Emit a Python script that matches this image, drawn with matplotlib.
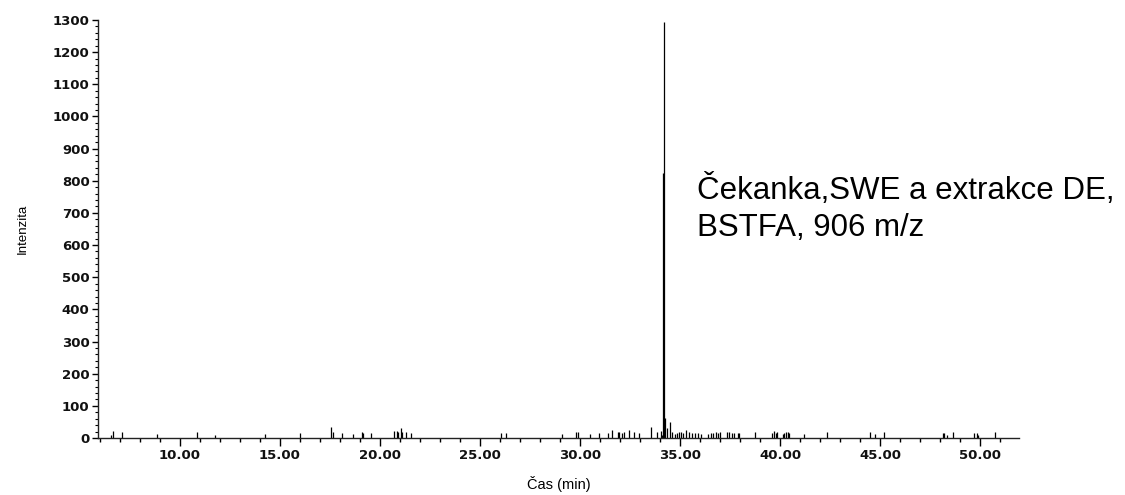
import matplotlib
matplotlib.use('Agg')
import matplotlib.pyplot as plt
from matplotlib.ticker import MultipleLocator, FormatStrFormatter

# retention times (min) and intensities of the visible peaks
times = [
    6.55, 6.63, 7.10, 8.85, 10.85, 11.75, 14.25, 16.00,
    17.53, 17.63, 18.10, 18.67, 19.08, 19.17, 19.55,
    20.72, 20.83, 20.90, 21.03, 21.10, 21.30, 21.55,
    26.03, 26.30, 29.08, 29.78, 29.88, 30.50, 30.95,
    31.42, 31.60, 31.88, 31.97, 32.08, 32.20, 32.45, 32.70, 32.97,
    33.55, 33.83, 34.05, 34.12,
    34.17, 34.20,
    34.25, 34.33, 34.50, 34.58, 34.75, 34.87, 34.97, 35.07, 35.17,
    35.30, 35.47, 35.62, 35.75, 35.88, 36.05, 36.42, 36.53, 36.67,
    36.78, 36.92, 37.00, 37.35, 37.45, 37.62, 37.72, 37.88, 37.97,
    38.75, 39.62, 39.70, 39.78, 39.85, 40.15, 40.22, 40.30, 40.38,
    40.45, 41.22, 42.35, 44.50, 44.75, 45.20,
    48.13, 48.22, 48.33, 48.63, 49.72, 49.83, 49.90, 50.75,
]
intensity = [
    8, 22, 18, 12, 18, 9, 13, 16,
    34, 18, 16, 13, 19, 16, 16,
    22, 22, 18, 30, 18, 18, 16,
    16, 16, 13, 19, 20, 13, 16,
    16, 24, 19, 19, 16, 20, 25, 19, 16,
    33, 19, 23, 10,
    825, 1295,
    62, 31, 50, 19, 13, 16, 20, 20, 16,
    24, 20, 16, 16, 16, 12, 13, 16, 16,
    20, 16, 18, 20, 18, 16, 16, 16, 16,
    18, 16, 22, 16, 18, 13, 16, 20, 20,
    16, 13, 20, 19, 13, 18,
    16, 16, 9, 19, 16, 16, 9, 19,
]

x_major = [10, 15, 20, 25, 30, 35, 40, 45, 50]
y_major = list(range(0, 1301, 100))

fig = plt.figure(figsize=(11.25, 4.95), dpi=100)
ax = fig.add_axes([0.0871, 0.1152, 0.8187, 0.8444])

ax.vlines(times, 0, intensity, colors='black', linewidth=0.9)

ax.set_xlim(5.9, 51.95)
ax.set_ylim(0, 1300)
ax.set_xticks(x_major)
ax.set_yticks(y_major)
ax.xaxis.set_major_formatter(FormatStrFormatter('%.2f'))
ax.xaxis.set_minor_locator(MultipleLocator(1))
ax.yaxis.set_minor_locator(MultipleLocator(20))

for side in ['top', 'right']:
    ax.spines[side].set_visible(False)
for side in ['left', 'bottom']:
    ax.spines[side].set_color('#222222')
    ax.spines[side].set_linewidth(1.0)

ax.tick_params(axis='x', which='major', length=6, width=1, direction='out', pad=2)
ax.tick_params(axis='x', which='minor', length=3, width=1, direction='out')
ax.tick_params(axis='y', which='major', length=4, width=1, direction='out', pad=2)
ax.tick_params(axis='y', which='minor', length=2, width=0.8, direction='out')
for lab in ax.get_xticklabels() + ax.get_yticklabels():
    lab.set_fontfamily('DejaVu Sans')
    lab.set_fontweight('bold')
    lab.set_fontsize(9.5)
    lab.set_color('#111111')

ax.set_xlabel('Čas (min)', family='Liberation Sans', fontsize=10.5, labelpad=10)
ax.set_ylabel('Intenzita', family='Liberation Sans', fontsize=9.5, labelpad=17)

ax.text(0.650, 0.55, 'Čekanka,SWE a extrakce DE,\nBSTFA, 906 m/z',
        transform=ax.transAxes, family='Liberation Sans', fontsize=22.5,
        ha='left', va='center', linespacing=1.3)

fig.savefig('out.png', dpi=100)
